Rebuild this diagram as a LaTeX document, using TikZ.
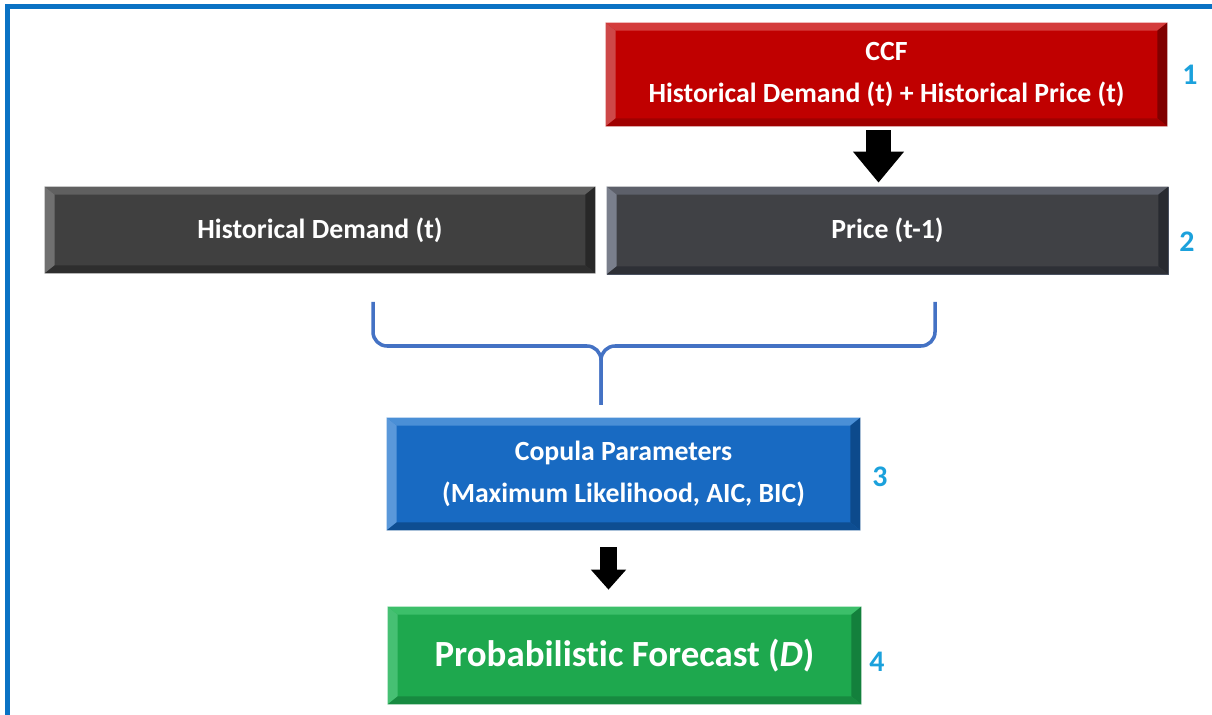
\documentclass[tikz,border=0pt]{standalone}
\usepackage{fontspec}
\setmainfont{Carlito}[Ligatures=NoCommon]
\usepackage{tikz}
\usetikzlibrary{arrows.meta}

\definecolor{framecol}{HTML}{0A72C4}
\definecolor{numcol}{HTML}{1BA1DC}
\definecolor{bracecol}{HTML}{4472C4}
\definecolor{redmain}{HTML}{C00000}
\definecolor{redtop}{HTML}{D43C3C}
\definecolor{redleft}{HTML}{CE4848}
\definecolor{redright}{HTML}{800000}
\definecolor{redbot}{HTML}{A00000}
\definecolor{histmain}{HTML}{404040}
\definecolor{histtop}{HTML}{606060}
\definecolor{histleft}{HTML}{707070}
\definecolor{histright}{HTML}{282828}
\definecolor{histbot}{HTML}{2E2E2E}
\definecolor{pricemain}{HTML}{404145}
\definecolor{priceline}{HTML}{5A6478}
\definecolor{pricetop}{HTML}{5D606A}
\definecolor{priceleft}{HTML}{7A7F8C}
\definecolor{priceright}{HTML}{282A30}
\definecolor{pricebot}{HTML}{2E3036}
\definecolor{copmain}{HTML}{186AC2}
\definecolor{coptop}{HTML}{4A8FD6}
\definecolor{copleft}{HTML}{5A98DA}
\definecolor{copright}{HTML}{0C4A8C}
\definecolor{copbot}{HTML}{0E4E92}
\definecolor{probmain}{HTML}{1EA84E}
\definecolor{probtop}{HTML}{3CBF6A}
\definecolor{probleft}{HTML}{46C073}
\definecolor{probright}{HTML}{13803C}
\definecolor{probbot}{HTML}{178A40}

\newcommand{\bevel}[5]{%
  \fill[#2] (#1.north west) -- (#1.north east) -- ([shift={(-10,8)}]#1.north east) -- ([shift={(10,8)}]#1.north west) -- cycle;
  \fill[#3] (#1.north west) -- ([shift={(10,8)}]#1.north west) -- ([shift={(10,-8)}]#1.south west) -- (#1.south west) -- cycle;
  \fill[#4] (#1.north east) -- ([shift={(-10,8)}]#1.north east) -- ([shift={(-10,-8)}]#1.south east) -- (#1.south east) -- cycle;
  \fill[#5] (#1.south west) -- ([shift={(10,-8)}]#1.south west) -- ([shift={(-10,-8)}]#1.south east) -- (#1.south east) -- cycle;
}

\begin{document}
\begin{tikzpicture}[x=0.02cm,y=-0.02cm,
  box/.style={inner sep=0pt,text=white,align=center,font=\fontsize{15.8}{24}\selectfont\bfseries},
  num/.style={text=numcol,font=\fontsize{17}{20}\selectfont\bfseries},
  bigarrow/.style={line width=0.5cm,-{Triangle[length=0.62cm,width=0.98cm]}},
  smallarrow/.style={line width=0.34cm,-{Triangle[length=0.4cm,width=0.68cm]}}]
  \useasboundingbox (0,0) rectangle (1212,715);
  \draw[framecol,line width=3pt] (7.5,715) -- (7.5,6.5) -- (1212,6.5);

  \node[box,fill=redmain,minimum width=11.22cm,minimum height=2.06cm] (ccf) at (886.5,74.5)
    {CCF\\Historical Demand (t) + Historical Price (t)};
  \bevel{ccf}{redtop}{redleft}{redright}{redbot}
  \node[box,fill=histmain,minimum width=11cm,minimum height=1.72cm] (hist) at (320,230) {Historical Demand (t)};
  \bevel{hist}{histtop}{histleft}{histright}{histbot}
  \node[box,fill=pricemain,draw=priceline,minimum width=11.22cm,minimum height=1.74cm] (price) at (887.5,230.5) {Price (t-1)};
  \bevel{price}{pricetop}{priceleft}{priceright}{pricebot}
  \node[box,fill=copmain,minimum width=9.46cm,minimum height=2.24cm] (cop) at (623.5,474)
    {Copula Parameters\\(Maximum Likelihood, AIC, BIC)};
  \bevel{cop}{coptop}{copleft}{copright}{copbot}
  \node[box,fill=probmain,minimum width=9.46cm,minimum height=1.94cm,font=\fontsize{21}{24}\selectfont\bfseries] (prob) at (624.5,655.5)
    {Probabilistic Forecast (\textit{D})};
  \bevel{prob}{probtop}{probleft}{probright}{probbot}

  \node[num] (n1) at (1190,75) {1};
  \node[num] (n2) at (1187,242) {2};
  \node[num] (n3) at (880,477) {3};
  \node[num] (n4) at (877,662) {4};

  \draw[bigarrow,shorten <=0.08cm,shorten >=0.08cm] ([xshift=-0.16cm]ccf.south) -- ([xshift=-0.16cm]ccf.south |- price.north);
  \draw[smallarrow,shorten <=0.34cm,shorten >=0.34cm] ([xshift=-0.3cm]cop.south) -- ([xshift=-0.3cm]cop.south |- prob.north);

  \coordinate (tip) at (601,405);
  \draw[bracecol,line width=2pt,rounded corners=8] (373,302) -- (373,346) -- (tip |- 0,346) -- (tip);
  \draw[bracecol,line width=2pt,rounded corners=8] (935,302) -- (935,346) -- (tip |- 0,346) -- (tip);
\end{tikzpicture}
\end{document}
